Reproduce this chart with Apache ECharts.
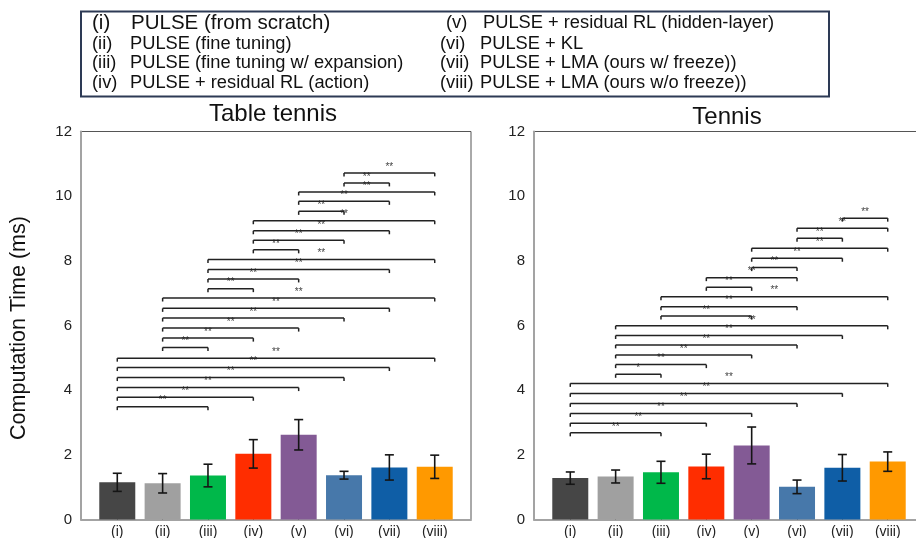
<!DOCTYPE html>
<html>
<head>
<meta charset="utf-8">
<script src="https://cdn.jsdelivr.net/npm/echarts@6/dist/echarts.min.js"></script>
<style>
  html, body { margin: 0; padding: 0; background: #fff; }
  #chart { width: 916px; height: 538px; }
</style>
</head>
<body>
<div id="chart"></div>
<script>
// Method labels (roman numerals) and their descriptions
const categories = ['(i)', '(ii)', '(iii)', '(iv)', '(v)', '(vi)', '(vii)', '(viii)'];
const legendNames = [
  'PULSE (from scratch)',
  'PULSE (fine tuning)',
  'PULSE (fine tuning w/ expansion)',
  'PULSE + residual RL (action)',
  'PULSE + residual RL (hidden-layer)',
  'PULSE + KL',
  'PULSE + LMA (ours w/ freeze))',
  'PULSE + LMA (ours w/o freeze))'
];
const barColors = ['#464646', '#a0a0a0', '#00b84a', '#ff2d00', '#835a95', '#4778aa', '#0f5ea6', '#ff9900'];
const yTicks = [0, 2, 4, 6, 8, 10, 12];

// Computation time (ms): mean and error half-width
const tableTennisMean = [1.15, 1.12, 1.36, 2.03, 2.62, 1.37, 1.61, 1.63];
const tableTennisErr  = [0.28, 0.30, 0.35, 0.44, 0.47, 0.12, 0.39, 0.36];
const tennisMean = [1.28, 1.33, 1.46, 1.64, 2.29, 1.01, 1.60, 1.79];
const tennisErr  = [0.19, 0.20, 0.34, 0.38, 0.57, 0.21, 0.41, 0.30];

// Significance brackets: [from group, to group, bracket height (ms), mark]
const tableTennisSig = [
  [1, 3, 3.49, '**'], [1, 4, 3.78, '**'], [1, 5, 4.08, '**'], [1, 6, 4.39, '**'], [1, 7, 4.70, '**'], [1, 8, 4.99, '**'],
  [2, 3, 5.32, '**'], [2, 4, 5.61, '**'], [2, 5, 5.92, '**'], [2, 6, 6.23, '**'], [2, 7, 6.53, '**'], [2, 8, 6.85, '**'],
  [3, 4, 7.14, '**'], [3, 5, 7.44, '**'], [3, 7, 7.73, '**'], [3, 8, 8.04, '**'],
  [4, 5, 8.34, '**'], [4, 6, 8.64, '**'], [4, 7, 8.93, '**'], [4, 8, 9.24, '**'],
  [5, 6, 9.53, '**'], [5, 7, 9.84, '**'], [5, 8, 10.13, '**'],
  [6, 7, 10.41, '**'], [6, 8, 10.72, '**']
];
const tennisSig = [
  [1, 3, 2.68, '**'], [1, 4, 2.98, '**'], [1, 5, 3.28, '**'], [1, 6, 3.59, '**'], [1, 7, 3.90, '**'], [1, 8, 4.21, '**'],
  [2, 3, 4.49, '*'], [2, 4, 4.79, '**'], [2, 5, 5.09, '**'], [2, 6, 5.40, '**'], [2, 7, 5.69, '**'], [2, 8, 5.99, '**'],
  [3, 5, 6.29, '**'], [3, 6, 6.58, '**'], [3, 8, 6.89, '**'],
  [4, 5, 7.18, '**'], [4, 6, 7.48, '**'],
  [5, 6, 7.79, '**'], [5, 7, 8.08, '**'], [5, 8, 8.39, '**'],
  [6, 7, 8.70, '**'], [6, 8, 9.01, '**'],
  [7, 8, 9.32, '**']
];

const FONT = '"Liberation Sans", Arial, sans-serif';
const groupPositions = categories.map((_, i) => i + 1);

const chart = echarts.init(document.getElementById('chart'), null, { renderer: 'canvas' });

function makeGrid(left) {
  return {
    left: left, top: 131.5, width: 390, height: 388,
    show: true, borderColor: '#555', borderWidth: 1,
    containLabel: false, outerBoundsMode: 'none'
  };
}

function makeXAxis(idx) {
  return {
    gridIndex: idx, type: 'value', min: 0.2, max: 8.8,
    splitLine: { show: false },
    axisLine: { show: true, onZero: false, lineStyle: { color: '#a3a3a3', width: 2 } },
    axisTick: { show: true, inside: true, length: 3, customValues: groupPositions, lineStyle: { color: '#444', width: 1 } },
    axisLabel: {
      show: true, customValues: groupPositions, margin: 6,
      fontFamily: FONT, fontSize: 14, color: '#222',
      formatter: v => categories[Math.round(v) - 1] || ''
    }
  };
}

function makeYAxis(idx) {
  return {
    gridIndex: idx, type: 'value', min: 0, max: 12, interval: 2,
    splitLine: { show: false },
    axisLine: { show: true, lineStyle: { color: '#a3a3a3', width: 2 } },
    axisTick: { show: false },
    axisLabel: {
      margin: 9, fontFamily: FONT, fontSize: 15, color: '#222',
      customValues: yTicks
    }
  };
}

function barSeries(idx, mean) {
  return {
    type: 'bar', xAxisIndex: idx, yAxisIndex: idx,
    barWidth: 36,
    data: mean.map((m, i) => ({ value: [i + 1, m], itemStyle: { color: barColors[i] } })),
    z: 2
  };
}

function errorSeries(idx, mean, err) {
  return {
    type: 'custom', xAxisIndex: idx, yAxisIndex: idx,
    data: mean.map((m, i) => [i + 1, m - err[i], m + err[i]]),
    renderItem(params, api) {
      const x = api.value(0);
      const lo = api.coord([x, api.value(1)]);
      const hi = api.coord([x, api.value(2)]);
      const c = 4.5;
      const st = { stroke: '#151515', lineWidth: 1.6 };
      return {
        type: 'group', children: [
          { type: 'line', shape: { x1: lo[0], y1: lo[1], x2: hi[0], y2: hi[1] }, style: st },
          { type: 'line', shape: { x1: hi[0] - c, y1: hi[1], x2: hi[0] + c, y2: hi[1] }, style: st },
          { type: 'line', shape: { x1: lo[0] - c, y1: lo[1], x2: lo[0] + c, y2: lo[1] }, style: st }
        ]
      };
    },
    z: 5
  };
}

function sigSeries(idx, sig) {
  return {
    type: 'custom', xAxisIndex: idx, yAxisIndex: idx,
    data: sig.map(s => [s[0], s[1], s[2]]),
    renderItem(params, api) {
      const a = api.coord([api.value(0), api.value(2)]);
      const b = api.coord([api.value(1), api.value(2)]);
      const st = { stroke: '#222', lineWidth: 1.5 };
      const t = 3.5;
      return {
        type: 'group', children: [
          { type: 'line', shape: { x1: a[0], y1: a[1], x2: b[0], y2: b[1] }, style: st },
          { type: 'line', shape: { x1: a[0], y1: a[1], x2: a[0], y2: a[1] + t }, style: st },
          { type: 'line', shape: { x1: b[0], y1: b[1], x2: b[0], y2: b[1] + t }, style: st },
          {
            type: 'text', x: (a[0] + b[0]) / 2, y: a[1] - 1,
            style: {
              text: sig[params.dataIndex][3], fontFamily: FONT, fontSize: 10, fill: '#444',
              align: 'center', verticalAlign: 'bottom'
            }
          }
        ]
      };
    },
    z: 6
  };
}

// Legend box with the method descriptions in two columns
const legendGraphics = [{
  type: 'rect', shape: { x: 81, y: 11.5, width: 748, height: 85 },
  style: { fill: 'none', stroke: '#2d3a55', lineWidth: 2 }
}];
const rowY = [23, 43.5, 63, 82.5];
categories.forEach((key, i) => {
  const col = i < 4 ? 0 : 1;
  const row = i % 4;
  const keyX = col === 0 ? 92 : (i === 4 ? 446 : 440);
  const textX = col === 0 ? (i === 0 ? 131 : 130) : (i === 4 ? 483 : 480);
  const size = i === 0 ? 20.5 : 18.3;
  legendGraphics.push({
    type: 'text', x: keyX, y: rowY[row],
    style: { text: key, fontFamily: FONT, fontSize: size, fill: '#111', align: 'left', verticalAlign: 'middle' }
  });
  legendGraphics.push({
    type: 'text', x: textX, y: rowY[row],
    style: { text: legendNames[i], fontFamily: FONT, fontSize: size, fill: '#111', align: 'left', verticalAlign: 'middle' }
  });
});

const titleGraphics = [
  { type: 'text', x: 273, y: 114, style: { text: 'Table tennis', fontFamily: FONT, fontSize: 24, fill: '#111', align: 'center', verticalAlign: 'middle' } },
  { type: 'text', x: 727, y: 117, style: { text: 'Tennis', fontFamily: FONT, fontSize: 24, fill: '#111', align: 'center', verticalAlign: 'middle' } },
  { type: 'text', x: 19, y: 328, rotation: Math.PI / 2,
    style: { text: 'Computation Time (ms)', fontFamily: FONT, fontSize: 21.5, fill: '#111', align: 'center', verticalAlign: 'middle' } }
];

chart.setOption({
  animation: false,
  backgroundColor: '#fff',
  grid: [makeGrid(81), makeGrid(534)],
  xAxis: [makeXAxis(0), makeXAxis(1)],
  yAxis: [makeYAxis(0), makeYAxis(1)],
  series: [
    barSeries(0, tableTennisMean), errorSeries(0, tableTennisMean, tableTennisErr), sigSeries(0, tableTennisSig),
    barSeries(1, tennisMean), errorSeries(1, tennisMean, tennisErr), sigSeries(1, tennisSig)
  ],
  graphic: legendGraphics.concat(titleGraphics)
});
</script>
</body>
</html>
